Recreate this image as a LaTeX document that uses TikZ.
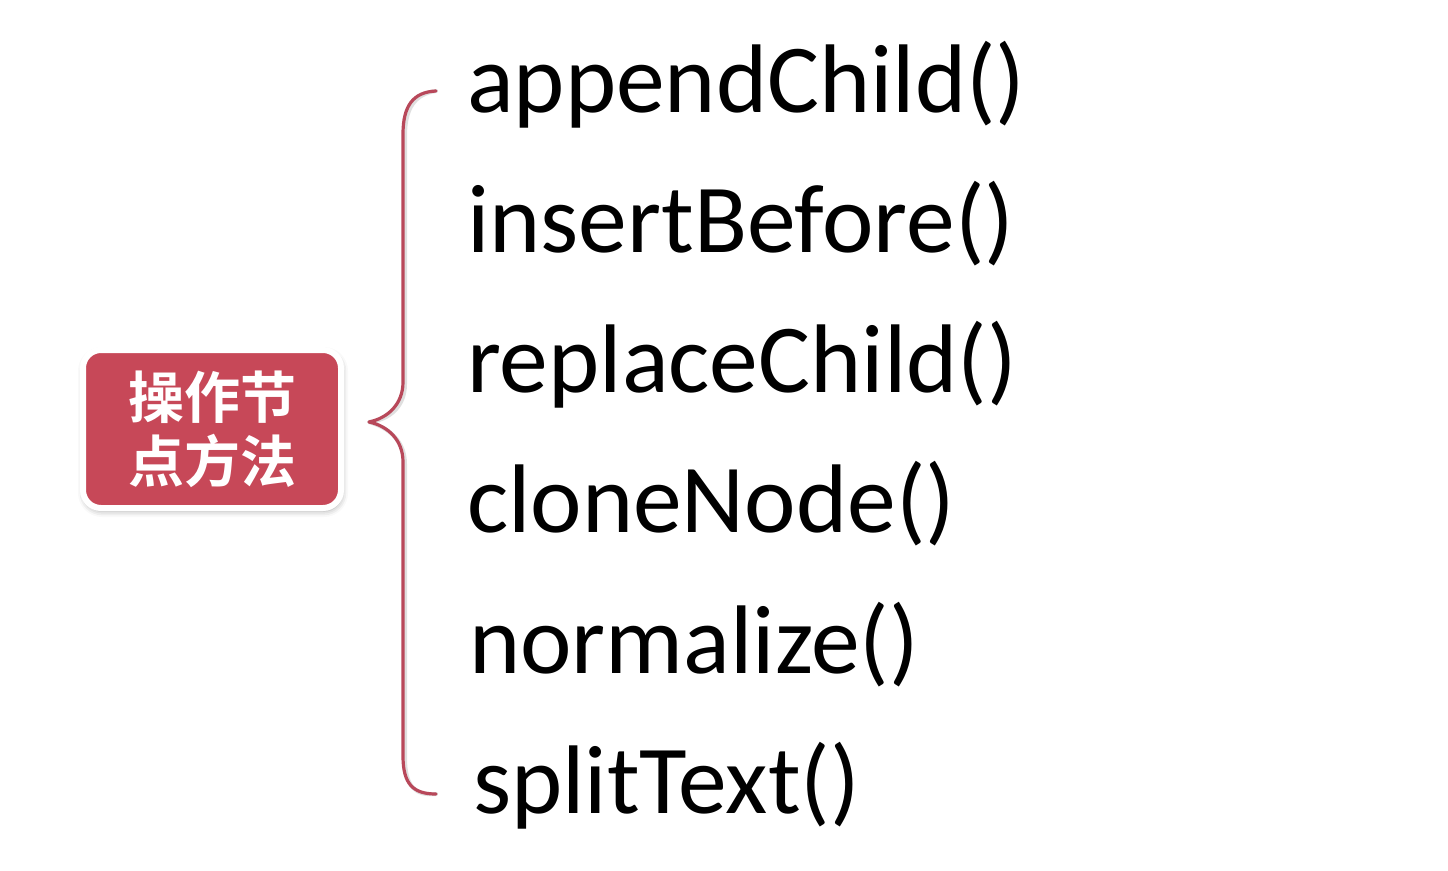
\documentclass[tikz,border=0pt]{standalone}
\usepackage{fontspec}
\setmainfont{Carlito}
\newfontfamily\cjkbold[BoldFont={Noto Sans CJK SC Bold}]{Noto Sans CJK SC}
\usetikzlibrary{shadows.blur}
\definecolor{boxred}{RGB}{199,72,88}
\definecolor{bracered}{RGB}{184,72,90}
\tikzset{
  catbox/.style={draw=white, line width=6pt, fill=boxred, rounded corners=18pt,
    minimum width=258pt, minimum height=158pt, inner sep=0pt, align=center,
    text=white, font=\cjkbold\bfseries\fontsize{56}{64}\selectfont,
    blur shadow={shadow xshift=1pt, shadow yshift=-3pt, shadow blur radius=6pt, shadow opacity=35}},
  item/.style={anchor=base west, inner sep=0pt, text=black, font=\fontsize{97.5}{110}\selectfont},
  bracestyle/.style={draw=bracered, line width=3.2pt, line cap=round, line join=round},
  braceshadow/.style={draw=black!25, line width=4pt, line cap=round, line join=round, opacity=0.5}
}
\newcommand{\bracepath}{(btop) .. controls (413,92) and (403,106) .. (403,134) -- (403,382)
  .. controls (403,404) and (388,418) .. (btip)
  .. controls (388,426) and (403,440) .. (403,462) -- (403,756)
  .. controls (403,784) and (413,794) .. (bbot)}
\begin{document}
\begin{tikzpicture}[x=1pt,y=-1pt]
\useasboundingbox (0,0) rectangle (1448,870);
\node[catbox] (cat) at (212,429) {操作节\\点方法};
\node[item] (m1) at (467,112) {appendChild()};
\node[item] (m2) at (467,252) {insertBefore()};
\node[item] (m3) at (467,392) {replaceChild()};
\node[item] (m4) at (467,532) {cloneNode()};
\node[item] (m5) at (469,673) {normalize()};
\node[item] (m6) at (473,813) {splitText()};
\coordinate (btop) at (436,91);
\coordinate (btip) at (369,422);
\coordinate (bbot) at (436,794);
\begin{scope}[xshift=2pt,yshift=-2pt]
\draw[braceshadow] \bracepath;
\end{scope}
\draw[bracestyle] \bracepath;
\end{tikzpicture}
\end{document}
